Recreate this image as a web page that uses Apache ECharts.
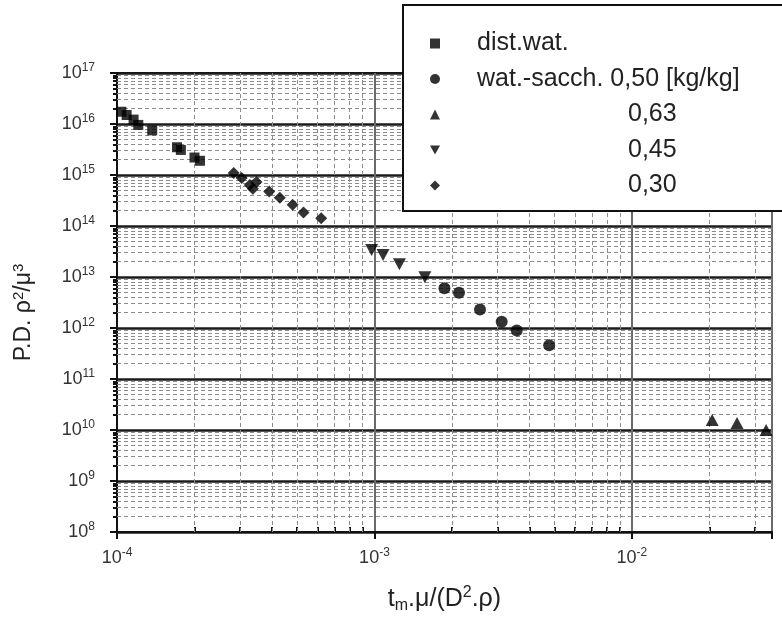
<!DOCTYPE html>
<html>
<head>
<meta charset="utf-8">
<script src="https://cdn.jsdelivr.net/npm/echarts@6/dist/echarts.min.js"></script>
<style>
  html, body { margin: 0; background: #fff; }
  #chart { width: 782px; height: 621px; }
</style>
</head>
<body>
<div id="chart"></div>
<script>
// data: [t_m.mu/(D^2.rho), P.D. rho^2/mu^3]
const distWater = [
  [1.04e-4, 1.74e16], [1.09e-4, 1.50e16], [1.16e-4, 1.22e16], [1.21e-4, 9.6e15],
  [1.37e-4, 7.5e15], [1.71e-4, 3.5e15], [1.77e-4, 3.1e15], [2.0e-4, 2.2e15], [2.1e-4, 1.9e15]
];
const sacch050 = [
  [1.87e-3, 6.0e12], [2.13e-3, 4.9e12], [2.57e-3, 2.3e12],
  [3.12e-3, 1.33e12], [3.57e-3, 8.9e11], [4.77e-3, 4.6e11]
];
const sacch063 = [[2.05e-2, 1.57e10], [2.56e-2, 1.37e10], [3.32e-2, 1.0e10]];
const sacch045 = [[9.75e-4, 3.4e13], [1.08e-3, 2.7e13], [1.25e-3, 1.77e13], [1.57e-3, 9.9e12]];
const sacch030 = [
  [2.84e-4, 1.09e15], [3.05e-4, 8.7e14], [3.28e-4, 6.4e14], [3.37e-4, 5.4e14], [3.48e-4, 7.3e14],
  [3.9e-4, 4.75e14], [4.29e-4, 3.6e14], [4.81e-4, 2.6e14], [5.3e-4, 1.84e14], [6.21e-4, 1.42e14]
];

const seriesNames = ['dist.wat.', 'wat.-sacch. 0,50 [kg/kg]', '0,63', '0,45', '0,30'];
const indentedNames = ['0,63', '0,45', '0,30'];

const xRange = [1e-4, 3.5e-2];
const yRange = [1e8, 1e17];
const xDecades = [-4, -3, -2];
const yDecades = [8, 9, 10, 11, 12, 13, 14, 15, 16];
const minorSteps = [2, 3, 4, 5, 6, 7, 8, 9];

// minor grid positions (2..9 x 10^n)
const xMinor = [];
xDecades.forEach(e => minorSteps.forEach(m => {
  const v = m * Math.pow(10, e);
  if (v < xRange[1]) xMinor.push(v);
}));
const yMinor = [];
yDecades.forEach(e => minorSteps.forEach(m => yMinor.push(m * Math.pow(10, e))));

const FONT = 'Liberation Sans';

const powLabel = (v) => {
  const e = Math.round(Math.log10(v));
  if (Math.abs(Math.log10(v) - e) > 1e-6) return '';
  return '{b|10}{s|' + e + '}';
};
const labelRich = {
  b: { fontSize: 18, color: '#333', fontFamily: FONT },
  s: { fontSize: 12, color: '#333', fontFamily: FONT, padding: [0, 0, 10, 0] }
};

const chart = echarts.init(document.getElementById('chart'));

const dashed = { color: '#8c8c8c', width: 1, type: [4, 3] };

const option = {
  animation: false,
  backgroundColor: '#fff',
  grid: {
    left: 117, right: 10, top: 73, bottom: 89,
    show: true, borderColor: '#111', borderWidth: 2
  },
  legend: {
    orient: 'vertical',
    left: 403, top: 5,
    z: 10,
    data: seriesNames,
    backgroundColor: '#fff',
    borderColor: '#111',
    borderWidth: 2,
    padding: [26, 90, 13, 27],
    itemWidth: 10, itemHeight: 10,
    itemGap: 10.5,
    formatter: (name) => indentedNames.includes(name) ? '{ind|' + name + '}' : '{a|' + name + '}',
    textStyle: {
      fontFamily: FONT, fontSize: 25, color: '#222',
      rich: {
        a: { fontFamily: FONT, fontSize: 25, color: '#222', padding: [0, 0, 0, 32] },
        ind: { fontFamily: FONT, fontSize: 25, color: '#222', padding: [0, 0, 0, 183] }
      }
    }
  },
  xAxis: [{
    type: 'log', logBase: 10, min: xRange[0], max: xRange[1], splitNumber: 3,
    name: '{t|t}{sub|m}{t|.μ/(D}{sup|2}{t|.ρ)}',
    nameLocation: 'middle', nameGap: 52,
    nameTextStyle: {
      rich: {
        t: { fontFamily: FONT, fontSize: 25, color: '#222' },
        sub: { fontFamily: FONT, fontSize: 16, color: '#222', padding: [14, 0, 0, 0] },
        sup: { fontFamily: FONT, fontSize: 16, color: '#222', padding: [0, 0, 12, 0] }
      }
    },
    axisLine: { show: true, lineStyle: { color: '#111', width: 2 } },
    axisTick: { show: true, inside: false, length: 7, lineStyle: { color: '#111', width: 2 } },
    axisLabel: { margin: 15, formatter: powLabel, rich: labelRich },
    splitLine: { show: true, lineStyle: { color: '#6a6a6a', width: 2 } }
  }, {
    // minor tick marks only
    type: 'log', logBase: 10, min: xRange[0], max: xRange[1], position: 'bottom',
    axisLine: { show: false },
    axisTick: { show: true, inside: true, length: 5, customValues: xMinor, lineStyle: { color: '#111', width: 2 } },
    axisLabel: { show: false },
    splitLine: { show: false }
  }],
  yAxis: [{
    type: 'log', logBase: 10, min: yRange[0], max: yRange[1], splitNumber: 9,
    name: '{t|P.D. ρ}{sup|2}{t|/μ}{sup|3}',
    nameLocation: 'middle', nameGap: 80, nameRotate: 90,
    nameTextStyle: {
      padding: [0, 20, 0, 0],
      rich: {
        t: { fontFamily: FONT, fontSize: 23, color: '#222' },
        sup: { fontFamily: FONT, fontSize: 15, color: '#222', padding: [0, 0, 11, 0] }
      }
    },
    axisLine: { show: true, lineStyle: { color: '#111', width: 2 } },
    axisTick: { show: true, inside: false, length: 7, lineStyle: { color: '#111', width: 2 } },
    axisLabel: { margin: 22, formatter: powLabel, rich: labelRich },
    splitLine: { show: true, lineStyle: { color: '#1a1a1a', width: 2.5 } }
  }, {
    type: 'log', logBase: 10, min: yRange[0], max: yRange[1], position: 'left',
    axisLine: { show: false },
    axisTick: { show: true, inside: false, length: 4, customValues: yMinor, lineStyle: { color: '#111', width: 2 } },
    axisLabel: { show: false },
    splitLine: { show: false }
  }],
  series: [
    {
      name: seriesNames[0], type: 'scatter', symbol: 'rect', symbolSize: 10,
      itemStyle: { color: '#000' }, data: distWater, z: 3,
      markLine: {
        silent: true, symbol: 'none', z: 1, animation: false, precision: 20,
        label: { show: false },
        lineStyle: dashed,
        data: xMinor.map(v => ({ xAxis: v })).concat(yMinor.map(v => ({ yAxis: v })))
      }
    },
    { name: seriesNames[1], type: 'scatter', symbol: 'circle', symbolSize: 12, itemStyle: { color: '#000' }, data: sacch050, z: 3 },
    { name: seriesNames[2], type: 'scatter', symbol: 'triangle', symbolSize: [13, 12], itemStyle: { color: '#000' }, data: sacch063, z: 3 },
    { name: seriesNames[3], type: 'scatter', symbol: 'path://M0,0L10,0L5,9Z', symbolSize: [13, 12], itemStyle: { color: '#000' }, data: sacch045, z: 3 },
    { name: seriesNames[4], type: 'scatter', symbol: 'diamond', symbolSize: 12, itemStyle: { color: '#000' }, data: sacch030, z: 3 }
  ]
};

chart.setOption(option);
</script>
</body>
</html>
